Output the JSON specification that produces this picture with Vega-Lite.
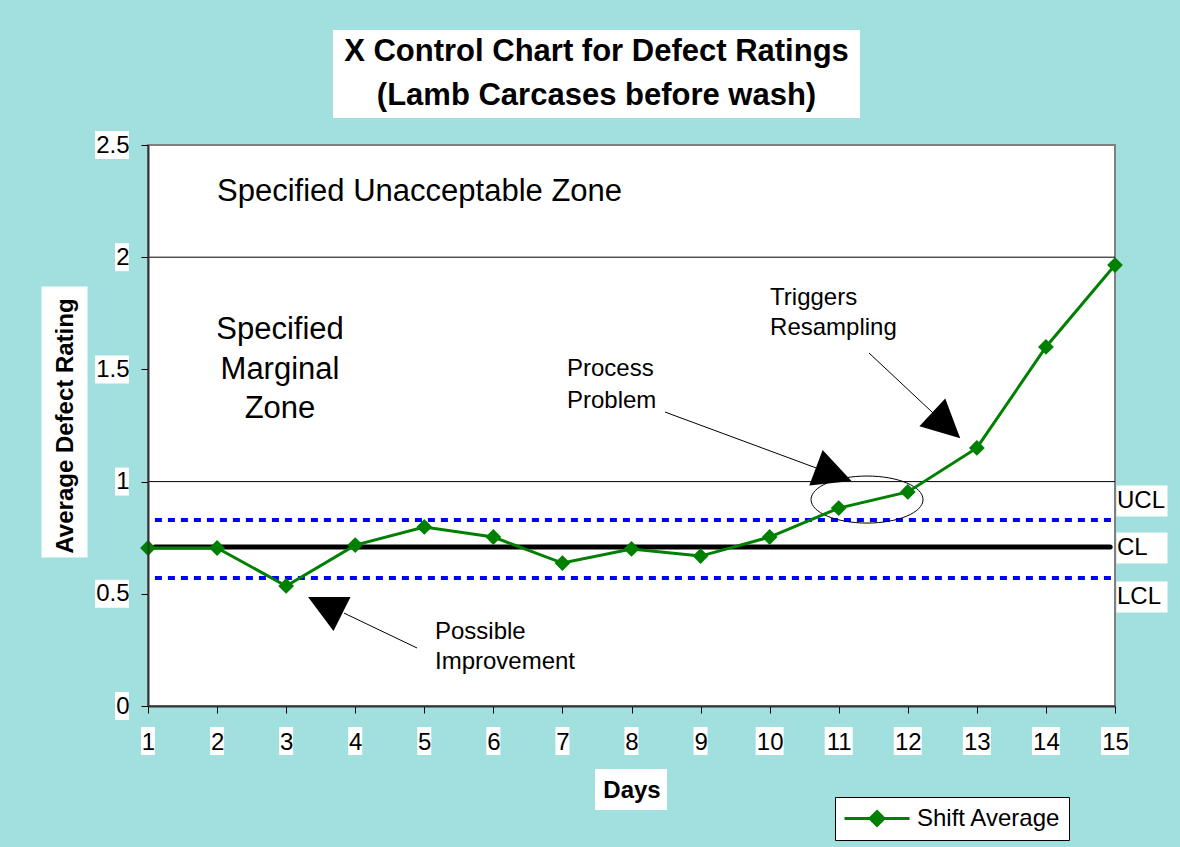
{
 "$schema": "https://vega.github.io/schema/vega-lite/v6.json",
 "width": 967, "height": 561,
 "autosize": {"type": "none"},
 "padding": {"left": 148, "top": 145, "right": 65, "bottom": 141},
 "background": "#a2dfdf",
 "config": {
  "font": "Liberation Sans",
  "view": {"fill": "white", "stroke": "#808080", "strokeWidth": 2},
  "axis": {"titleFont": "Liberation Sans", "titleFontSize": 24, "titleFontWeight": "bold", "titleColor": "black", "labelFont": "Liberation Sans", "labelFontSize": 24, "labelColor": "black", "labelFlush": false, "labelOverlap": false, "tickSize": 7, "tickColor": "black", "domainColor": "#333333", "domainWidth": 2, "grid": false},
  "axisX": {"titlePadding": 24, "labelPadding": 17},
  "axisY": {"titlePadding": 18, "labelPadding": 12}
 },
 "datasets": {
  "series": [
   {"day": 1, "rating": 0.704, "series": "Shift Average"},
   {"day": 2, "rating": 0.704, "series": "Shift Average"},
   {"day": 3, "rating": 0.535, "series": "Shift Average"},
   {"day": 4, "rating": 0.717, "series": "Shift Average"},
   {"day": 5, "rating": 0.798, "series": "Shift Average"},
   {"day": 6, "rating": 0.753, "series": "Shift Average"},
   {"day": 7, "rating": 0.637, "series": "Shift Average"},
   {"day": 8, "rating": 0.700, "series": "Shift Average"},
   {"day": 9, "rating": 0.668, "series": "Shift Average"},
   {"day": 10, "rating": 0.753, "series": "Shift Average"},
   {"day": 11, "rating": 0.882, "series": "Shift Average"},
   {"day": 12, "rating": 0.954, "series": "Shift Average"},
   {"day": 13, "rating": 1.150, "series": "Shift Average"},
   {"day": 14, "rating": 1.600, "series": "Shift Average"},
   {"day": 15, "rating": 1.965, "series": "Shift Average"}
  ],
  "yticks": [{"rating": 0}, {"rating": 0.5}, {"rating": 1}, {"rating": 1.5}, {"rating": 2}, {"rating": 2.5}],
  "zoneLines": [{"rating": 1}, {"rating": 2}],
  "limits": [{"limit": "UCL", "rating": 0.829}, {"limit": "CL", "rating": 0.709}, {"limit": "LCL", "rating": 0.570}],
  "limitLabels": [
   {"text": "UCL", "day": 15.029, "rating": 0.9135},
   {"text": "CL", "day": 15.029, "rating": 0.7041},
   {"text": "LCL", "day": 15.029, "rating": 0.4857}
  ],
  "title": [
   {"text": "X Control Chart for Defect Ratings", "day": 7.4935, "rating": 2.914},
   {"text": "(Lamb Carcases before wash)", "day": 7.4935, "rating": 2.718}
  ],
  "zoneTop": [{"text": "Specified Unacceptable Zone", "day": 2.0, "rating": 2.2906}],
  "zoneMid": [
   {"text": "Specified", "day": 2.911, "rating": 1.676},
   {"text": "Marginal", "day": 2.911, "rating": 1.4973},
   {"text": "Zone", "day": 2.911, "rating": 1.3235}
  ],
  "notes": [
   {"text": "Triggers", "day": 10.006, "rating": 1.8182},
   {"text": "Resampling", "day": 10.006, "rating": 1.6845},
   {"text": "Process", "day": 7.066, "rating": 1.5018},
   {"text": "Problem", "day": 7.066, "rating": 1.3592},
   {"text": "Possible", "day": 5.155, "rating": 0.3298},
   {"text": "Improvement", "day": 5.155, "rating": 0.1961}
  ]
 },
 "layer": [
  {
   "data": {"name": "series"},
   "mark": {"type": "line", "color": "#008000", "strokeWidth": 3, "opacity": 0},
   "encoding": {
    "x": {"field": "day", "type": "quantitative", "scale": {"domain": [1, 15], "nice": false, "zero": false},
     "axis": {"values": [1, 2, 3, 4, 5, 6, 7, 8, 9, 10, 11, 12, 13, 14, 15], "format": "d", "title": "Days", "zindex": 2}},
    "y": {"field": "rating", "type": "quantitative", "scale": {"domain": [0, 2.5], "nice": false, "zero": false},
     "axis": {"values": [0, 0.5, 1, 1.5, 2, 2.5], "format": "~g", "title": "Average Defect Rating", "zindex": 2}}
   }
  },
  {
   "data": {"values": [{}]},
   "mark": {"type": "point", "shape": "M-1,-0.167H1V0.167H-1Z", "size": 277729, "filled": true, "color": "white", "opacity": 1, "strokeWidth": 0},
   "encoding": {
    "x": {"datum": 7.4935, "type": "quantitative"},
    "y": {"datum": 2.8164, "type": "quantitative"}
   }
  },
  {
   "data": {"values": [{}]},
   "mark": {"type": "point", "shape": "M-0.17,-1H0.17V1H-0.17Z", "size": 73441, "filled": true, "color": "white", "opacity": 1, "strokeWidth": 0},
   "encoding": {
    "x": {"datum": -0.209, "type": "quantitative"},
    "y": {"datum": 1.2656, "type": "quantitative"}
   }
  },
  {
   "data": {"values": [{}]},
   "mark": {"type": "point", "shape": "M-1,-0.57H1V0.57H-1Z", "size": 5184, "filled": true, "color": "white", "opacity": 1, "strokeWidth": 0},
   "encoding": {
    "x": {"datum": 7.993, "type": "quantitative"},
    "y": {"datum": -0.372, "type": "quantitative"}
   }
  },
  {
   "data": {"name": "series"},
   "transform": [{"filter": "datum.day < 10"}],
   "mark": {"type": "point", "shape": "M-0.5,-1H0.5V1H-0.5Z", "size": 784, "filled": true, "color": "white", "opacity": 1, "strokeWidth": 0},
   "encoding": {
    "x": {"field": "day", "type": "quantitative"},
    "y": {"datum": -0.156, "type": "quantitative"}
   }
  },
  {
   "data": {"name": "series"},
   "transform": [{"filter": "datum.day >= 10"}],
   "mark": {"type": "point", "shape": "square", "size": 784, "filled": true, "color": "white", "opacity": 1, "strokeWidth": 0},
   "encoding": {
    "x": {"field": "day", "type": "quantitative"},
    "y": {"datum": -0.156, "type": "quantitative"}
   }
  },
  {
   "data": {"name": "yticks"},
   "transform": [{"filter": "datum.rating % 1 != 0"}],
   "mark": {"type": "point", "shape": "M-1,-0.824H1V0.824H-1Z", "size": 1156, "filled": true, "color": "white", "opacity": 1, "strokeWidth": 0},
   "encoding": {
    "x": {"datum": 0.4788, "type": "quantitative"},
    "y": {"field": "rating", "type": "quantitative"}
   }
  },
  {
   "data": {"name": "yticks"},
   "transform": [{"filter": "datum.rating % 1 == 0"}],
   "mark": {"type": "point", "shape": "M-0.5,-1H0.5V1H-0.5Z", "size": 784, "filled": true, "color": "white", "opacity": 1, "strokeWidth": 0},
   "encoding": {
    "x": {"datum": 0.6236, "type": "quantitative"},
    "y": {"field": "rating", "type": "quantitative"}
   }
  },
  {
   "data": {"name": "limitLabels"},
   "mark": {"type": "point", "shape": "M-1,-0.608H1V0.608H-1Z", "size": 2601, "filled": true, "color": "white", "opacity": 1, "strokeWidth": 0},
   "encoding": {
    "x": {"datum": 15.391, "type": "quantitative"},
    "y": {"field": "rating", "type": "quantitative"}
   }
  },
  {
   "data": {"name": "zoneLines"},
   "mark": {"type": "rule", "color": "black", "strokeWidth": 1},
   "encoding": {
    "x": {"datum": 1, "type": "quantitative"},
    "x2": {"datum": 15},
    "y": {"field": "rating", "type": "quantitative"}
   }
  },
  {
   "data": {"name": "limits"},
   "transform": [{"filter": "datum.limit != 'CL'"}],
   "mark": {"type": "rule", "color": "#0000ff", "strokeWidth": 4, "strokeDash": [7, 6]},
   "encoding": {
    "x": {"datum": 1.1, "type": "quantitative"},
    "x2": {"datum": 15},
    "y": {"field": "rating", "type": "quantitative"}
   }
  },
  {
   "data": {"name": "limits"},
   "transform": [{"filter": "datum.limit == 'CL'"}],
   "mark": {"type": "rule", "color": "black", "strokeWidth": 5, "strokeCap": "round"},
   "encoding": {
    "x": {"datum": 1.1, "type": "quantitative"},
    "x2": {"datum": 14.93},
    "y": {"field": "rating", "type": "quantitative"}
   }
  },
  {
   "data": {"values": [{}]},
   "mark": {"type": "point", "shape": "M-1,0C-1,-0.232 -0.552,-0.42 0,-0.42C0.552,-0.42 1,-0.232 1,0C1,0.232 0.552,0.42 0,0.42C-0.552,0.42 -1,0.232 -1,0Z", "size": 12544, "filled": false, "color": "black", "strokeWidth": 1, "opacity": 1},
   "encoding": {
    "x": {"datum": 11.41, "type": "quantitative"},
    "y": {"datum": 0.92, "type": "quantitative"}
   }
  },
  {
   "data": {"values": [{}]},
   "mark": {"type": "rule", "color": "black", "strokeWidth": 1},
   "encoding": {
    "x": {"datum": 4.895, "type": "quantitative"},
    "x2": {"datum": 3.838},
    "y": {"datum": 0.2585, "type": "quantitative"},
    "y2": {"datum": 0.414}
   }
  },
  {
   "data": {"values": [{}]},
   "mark": {"type": "rule", "color": "black", "strokeWidth": 1},
   "encoding": {
    "x": {"datum": 8.485, "type": "quantitative"},
    "x2": {"datum": 10.671},
    "y": {"datum": 1.31, "type": "quantitative"},
    "y2": {"datum": 1.061}
   }
  },
  {
   "data": {"values": [{}]},
   "mark": {"type": "rule", "color": "black", "strokeWidth": 1},
   "encoding": {
    "x": {"datum": 11.439, "type": "quantitative"},
    "x2": {"datum": 12.365},
    "y": {"datum": 1.573, "type": "quantitative"},
    "y2": {"datum": 1.306}
   }
  },
  {
   "data": {"values": [{}]},
   "mark": {"type": "point", "shape": "M0,-1L1,1L-1,1Z", "size": 1444, "angle": 296.6, "filled": true, "color": "black", "opacity": 1, "strokeWidth": 0},
   "encoding": {
    "x": {"datum": 3.563, "type": "quantitative"},
    "y": {"datum": 0.448, "type": "quantitative"}
   }
  },
  {
   "data": {"values": [{}]},
   "mark": {"type": "point", "shape": "M0,-1L1,1L-1,1Z", "size": 1444, "angle": 110.6, "filled": true, "color": "black", "opacity": 1, "strokeWidth": 0},
   "encoding": {
    "x": {"datum": 10.928, "type": "quantitative"},
    "y": {"datum": 1.032, "type": "quantitative"}
   }
  },
  {
   "data": {"values": [{}]},
   "mark": {"type": "point", "shape": "M0,-1L1,1L-1,1Z", "size": 1444, "angle": 132.8, "filled": true, "color": "black", "opacity": 1, "strokeWidth": 0},
   "encoding": {
    "x": {"datum": 12.557, "type": "quantitative"},
    "y": {"datum": 1.251, "type": "quantitative"}
   }
  },
  {
   "data": {"name": "series"},
   "mark": {"type": "line", "color": "#008000", "strokeWidth": 3},
   "encoding": {
    "x": {"field": "day", "type": "quantitative"},
    "y": {"field": "rating", "type": "quantitative"}
   }
  },
  {
   "data": {"name": "series"},
   "mark": {"type": "point", "shape": "diamond", "filled": true, "size": 250, "opacity": 1},
   "encoding": {
    "x": {"field": "day", "type": "quantitative"},
    "y": {"field": "rating", "type": "quantitative"},
    "color": {"field": "series", "type": "nominal", "scale": {"range": ["#008000"]},
     "legend": {"title": null, "orient": "none", "legendX": 687, "legendY": 652, "direction": "vertical", "fillColor": "white", "strokeColor": "black", "padding": 8, "cornerRadius": 0, "labelFont": "Liberation Sans", "labelFontSize": 24, "labelColor": "black", "labelOffset": 47, "labelLimit": 0,
      "symbolType": "M-1,0H4.42M1.71,-0.58L2.29,0L1.71,0.58L1.13,0Z", "symbolSize": 576, "symbolStrokeWidth": 3, "symbolFillColor": "#008000", "symbolStrokeColor": "#008000", "symbolOpacity": 1,
      "encode": {"symbols": {"update": {"shape": {"value": "M-1,0H4.42M1.71,-0.58L2.29,0L1.71,0.58L1.13,0Z"}, "fill": {"value": "#008000"}, "stroke": {"value": "#008000"}, "strokeWidth": {"value": 3}, "opacity": {"value": 1}}}}}}
   }
  },
  {
   "data": {"name": "title"},
   "mark": {"type": "text", "font": "Liberation Sans", "fontSize": 31, "fontWeight": "bold", "color": "black", "align": "center", "baseline": "middle"},
   "encoding": {
    "x": {"field": "day", "type": "quantitative"},
    "y": {"field": "rating", "type": "quantitative"},
    "text": {"field": "text"}
   }
  },
  {
   "data": {"name": "zoneTop"},
   "mark": {"type": "text", "font": "Liberation Sans", "fontSize": 31, "color": "black", "align": "left", "baseline": "middle"},
   "encoding": {
    "x": {"field": "day", "type": "quantitative"},
    "y": {"field": "rating", "type": "quantitative"},
    "text": {"field": "text"}
   }
  },
  {
   "data": {"name": "zoneMid"},
   "mark": {"type": "text", "font": "Liberation Sans", "fontSize": 31, "color": "black", "align": "center", "baseline": "middle"},
   "encoding": {
    "x": {"field": "day", "type": "quantitative"},
    "y": {"field": "rating", "type": "quantitative"},
    "text": {"field": "text"}
   }
  },
  {
   "data": {"name": "notes"},
   "mark": {"type": "text", "font": "Liberation Sans", "fontSize": 24, "color": "black", "align": "left", "baseline": "middle"},
   "encoding": {
    "x": {"field": "day", "type": "quantitative"},
    "y": {"field": "rating", "type": "quantitative"},
    "text": {"field": "text"}
   }
  },
  {
   "data": {"name": "limitLabels"},
   "mark": {"type": "text", "font": "Liberation Sans", "fontSize": 24, "color": "black", "align": "left", "baseline": "middle"},
   "encoding": {
    "x": {"field": "day", "type": "quantitative"},
    "y": {"field": "rating", "type": "quantitative"},
    "text": {"field": "text"}
   }
  }
 ]
}
